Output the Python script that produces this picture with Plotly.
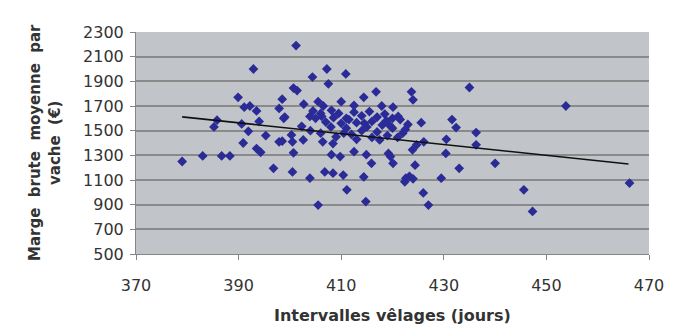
import plotly.graph_objects as go

# Data (calving interval in days, average gross margin per cow in €)
interval_days = [
    379.0, 383.0, 386.7, 388.3, 385.2, 385.8, 389.9, 391.1, 392.2, 393.5,
    392.9, 390.6, 391.9, 394.0, 395.3, 390.9, 393.5, 394.3, 396.8, 397.9,
    397.9, 398.5, 398.8, 400.3, 400.5, 400.7, 400.5, 401.2, 400.7, 401.4,
    404.4, 407.2, 410.9, 407.5, 402.7, 405.5, 406.5, 410.0, 408.1, 414.4,
    416.8, 417.9, 420.1, 423.7, 424.0, 399.0, 403.9, 406.2, 402.3, 421.1,
    421.5, 425.6, 431.6, 432.4, 436.3, 430.5, 436.3, 430.4, 440.0, 433.0,
    429.5, 445.6, 447.3, 466.2, 453.8, 435.0, 398.5, 402.6, 406.4, 408.4,
    408.1, 409.8, 412.5, 414.9, 415.9, 419.2, 419.6, 420.1, 423.9, 424.7,
    426.1, 424.4, 406.8, 408.4, 410.4, 403.9, 414.4, 422.6, 423.3, 424.0,
    422.4, 411.1, 426.0, 405.5, 414.8, 427.0, 404.5, 406.0, 409.5, 411.0,
    412.5, 414.0, 415.5, 417.0, 418.5, 413.0, 416.0, 418.0, 410.0, 408.0,
    411.0, 414.0, 417.0, 420.0, 422.0, 419.0, 421.0, 412.0, 409.0, 406.0,
    404.0, 413.0, 416.0, 423.0, 418.8, 420.0, 407.0, 405.0, 415.0, 411.5,
    414.5, 419.5, 422.5, 410.5, 417.5, 408.5, 412.5,
]
gross_margin = [
    1250, 1295, 1295, 1295, 1530, 1585, 1770, 1690, 1700, 1660,
    2000, 1555, 1495, 1575, 1460, 1400, 1355, 1325, 1195, 1410,
    1680, 1755, 1600, 1465, 1410, 1320, 1165, 2190, 1845, 1825,
    1935, 2000, 1960, 1880, 1715, 1735, 1700, 1735, 1665, 1770,
    1815, 1700, 1690, 1815, 1750, 1610, 1615, 1615, 1535, 1615,
    1590, 1565, 1590, 1525, 1485, 1430, 1385, 1315, 1235, 1195,
    1115, 1020, 845, 1075, 1700, 1850, 1415, 1425, 1410, 1395,
    1305, 1290, 1330, 1305, 1235, 1315, 1290, 1235, 1345, 1385,
    1410, 1220, 1165, 1155, 1140, 1115, 1125, 1115, 1130, 1110,
    1085, 1020, 995, 897, 925, 897, 1660, 1640, 1640, 1600,
    1650, 1620, 1655, 1610, 1635, 1565, 1575, 1545, 1560, 1530,
    1520, 1500, 1490, 1520, 1480, 1460, 1445, 1470, 1450, 1480,
    1500, 1430, 1445, 1550, 1580, 1600, 1570, 1600, 1530, 1590,
    1560, 1540, 1510, 1480, 1425, 1605, 1705,
]

# Trend line end points
trend_x = [379.0, 466.0]
trend_y = [1612, 1230]

x_ticks = [370, 390, 410, 430, 450, 470]
y_ticks = [500, 700, 900, 1100, 1300, 1500, 1700, 1900, 2100, 2300]

x_title = "Intervalles vêlages (jours)"
y_title_1 = "Marge\u00a0\u00a0brute\u00a0\u00a0moyenne\u00a0\u00a0par"
y_title_2 = "vache\u00a0\u00a0(€)"

font_family = "DejaVu Sans"
text_color = "#333333"

fig = go.Figure()
fig.add_trace(go.Scatter(
    x=interval_days, y=gross_margin, mode="markers",
    marker=dict(symbol="diamond", size=7.5, color="#2b2b98", line=dict(width=0)),
    showlegend=False, hoverinfo="x+y",
))
fig.add_trace(go.Scatter(
    x=trend_x, y=trend_y, mode="lines",
    line=dict(color="#111111", width=1.6),
    showlegend=False, hoverinfo="skip",
))

# The page body has an 8px default margin, so margins are offset by 8px
fig.update_layout(
    width=675, height=329,
    margin=dict(l=128, r=34, t=24, b=83, pad=0),
    paper_bgcolor="white",
    plot_bgcolor="#c1c4c8",
    font=dict(family=font_family, color=text_color),
    xaxis=dict(
        range=[370, 470], tickvals=x_ticks, ticktext=[str(v) for v in x_ticks],
        showgrid=False, zeroline=False,
        showline=True, linecolor="#858585", linewidth=1,
        ticks="outside", ticklen=5, tickcolor="#858585",
        tickfont=dict(family=font_family, size=16, color=text_color),
        ticklabelstandoff=12,
    ),
    yaxis=dict(
        range=[500, 2300], tickvals=y_ticks, ticktext=[str(v) for v in y_ticks],
        showgrid=True, gridcolor="#8a8a8a", gridwidth=1.5, zeroline=False,
        showline=True, linecolor="#858585", linewidth=1,
        ticks="outside", ticklen=5, tickcolor="#858585",
        tickfont=dict(family=font_family, size=16, color=text_color),
        ticklabelstandoff=3,
    ),
    annotations=[
        dict(text="<b>" + x_title + "</b>", xref="paper", yref="paper",
             x=0.5, y=0, xanchor="center", yanchor="middle", yshift=-61,
             showarrow=False, font=dict(family=font_family, size=16, color=text_color)),
        dict(text="<b>" + y_title_1 + "</b>", xref="paper", yref="paper",
             x=0, y=0.5, xanchor="center", yanchor="middle", xshift=-101,
             textangle=-90, showarrow=False,
             font=dict(family=font_family, size=15, color=text_color)),
        dict(text="<b>" + y_title_2 + "</b>", xref="paper", yref="paper",
             x=0, y=0.5, xanchor="center", yanchor="middle", xshift=-81,
             textangle=-90, showarrow=False,
             font=dict(family=font_family, size=15, color=text_color)),
    ],
)

fig.write_html("out.html")
